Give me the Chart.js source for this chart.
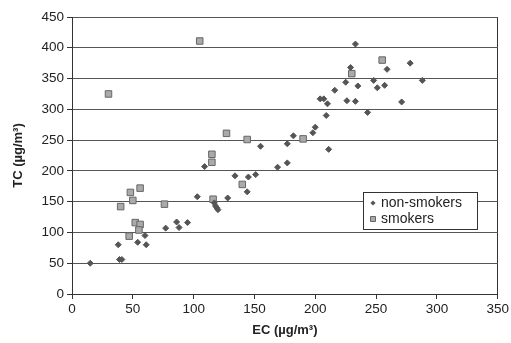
<!DOCTYPE html>
<html>
<head>
<meta charset="utf-8">
<script src="https://cdn.jsdelivr.net/npm/chart.js@4/dist/chart.umd.min.js"></script>
<style>
  html, body { margin: 0; padding: 0; background: #fff; }
  #wrap { width: 511px; height: 343px; position: relative; }
</style>
</head>
<body>
<div id="wrap"><canvas id="c" width="511" height="343"></canvas></div>
<script>
const nonSmokersEC = [15,38,39,41,54,60,61,77,86,88,95,103,109,117,118,119,120,128,134,144,145,151,155,169,177,177,182,198,200,204,207,209,210,211,216,225,226,229,233,233,235,243,248,251,257,259,271,278,288];
const nonSmokersTC = [50,80,56,56,84,95,80,107,117,108,116,158,207,148,143,140,137,156,192,166,190,194,240,206,213,244,257,262,271,317,317,290,309,235,331,344,314,368,406,313,338,295,347,335,339,365,312,375,347];
const smokersEC = [30,105,40,48,50,56,52,56,55,47,76,115,115,116,127,140,144,190,230,255];
const smokersTC = [325,411,142,165,152,172,116,113,104,94,146,227,214,154,261,178,251,252,358,380];
const xTicks = [0,50,100,150,200,250,300,350];
const yTicks = [0,50,100,150,200,250,300,350,400,450];
const seriesNames = ['non-smokers','smokers'];

const toPts = (xs, ys) => xs.map((x, i) => ({x: x, y: ys[i]}));
const font = "'Liberation Sans', Arial, sans-serif";

new Chart(document.getElementById('c'), {
  type: 'scatter',
  data: {
    datasets: [
      {
        label: seriesNames[0],
        data: toPts(nonSmokersEC, nonSmokersTC),
        pointStyle: 'rectRot',
        pointRadius: 3,
        backgroundColor: '#555',
        borderColor: '#555',
        borderWidth: 1
      },
      {
        label: seriesNames[1],
        data: toPts(smokersEC, smokersTC),
        pointStyle: 'rect',
        pointRadius: 4.6,
        backgroundColor: '#aaa',
        borderColor: '#666',
        borderWidth: 1
      }
    ]
  },
  options: {
    responsive: false,
    animation: false,
    layout: { padding: { top: 17, right: 13, left: 11, bottom: 5 } },
    plugins: {
      legend: { display: false },
      tooltip: { enabled: false }
    },
    scales: {
      x: {
        type: 'linear',
        min: 0, max: 350,
        afterBuildTicks: (axis) => { axis.ticks = xTicks.map(v => ({value: v})); },
        afterFit: (axis) => { axis.height = 44; },
        ticks: { color: '#222', font: { family: font, size: 13.5 }, padding: 2, maxRotation: 0 },
        grid: {
          color: (ctx) => (ctx.tick && ctx.tick.value === 350) ? '#333' : 'rgba(0,0,0,0)',
          tickColor: '#333',
          tickLength: 5,
          lineWidth: 1
        },
        border: { color: '#333', width: 1 },
        title: { display: true, text: 'EC (µg/m³)', color: '#222', font: { family: font, size: 13, weight: 'bold' }, padding: { top: 0, bottom: 0 } }
      },
      y: {
        type: 'linear',
        min: 0, max: 450,
        afterBuildTicks: (axis) => { axis.ticks = yTicks.map(v => ({value: v})); },
        afterFit: (axis) => { axis.width = 61; },
        ticks: { color: '#222', font: { family: font, size: 13.5 }, padding: 3 },
        grid: {
          color: '#555',
          tickColor: '#333',
          tickLength: 5,
          lineWidth: 1
        },
        border: { color: '#333', width: 1 },
        title: { display: true, text: 'TC (µg/m³)', color: '#222', font: { family: font, size: 13, weight: 'bold' }, padding: { top: 0, bottom: 2 } }
      }
    }
  },
  plugins: [{
    id: 'boxLegend',
    afterDraw(chart) {
      const ctx = chart.ctx;
      const x0 = 363, y0 = 192, w = 114, h = 37;
      ctx.save();
      ctx.fillStyle = '#fff';
      ctx.fillRect(x0, y0, w, h);
      ctx.strokeStyle = '#333';
      ctx.lineWidth = 1;
      ctx.strokeRect(x0 + 0.5, y0 + 0.5, w, h);
      ctx.font = "14px " + font;
      ctx.fillStyle = '#222';
      ctx.textBaseline = 'middle';
      const ds = chart.data.datasets;
      const rows = [203, 219];
      rows.forEach((yy, i) => {
        const d = ds[i];
        ctx.fillStyle = d.backgroundColor;
        ctx.strokeStyle = d.borderColor;
        ctx.beginPath();
        if (d.pointStyle === 'rectRot') {
          const r = 2.6;
          ctx.moveTo(373, yy - r); ctx.lineTo(373 + r, yy); ctx.lineTo(373, yy + r); ctx.lineTo(373 - r, yy); ctx.closePath();
          ctx.fill();
        } else {
          ctx.rect(370.5, yy - 2.5, 5, 5);
          ctx.fill(); ctx.stroke();
        }
        ctx.fillStyle = '#222';
        ctx.fillText(d.label, 381, yy);
      });
      ctx.restore();
    }
  }]
});
</script>
</body>
</html>
